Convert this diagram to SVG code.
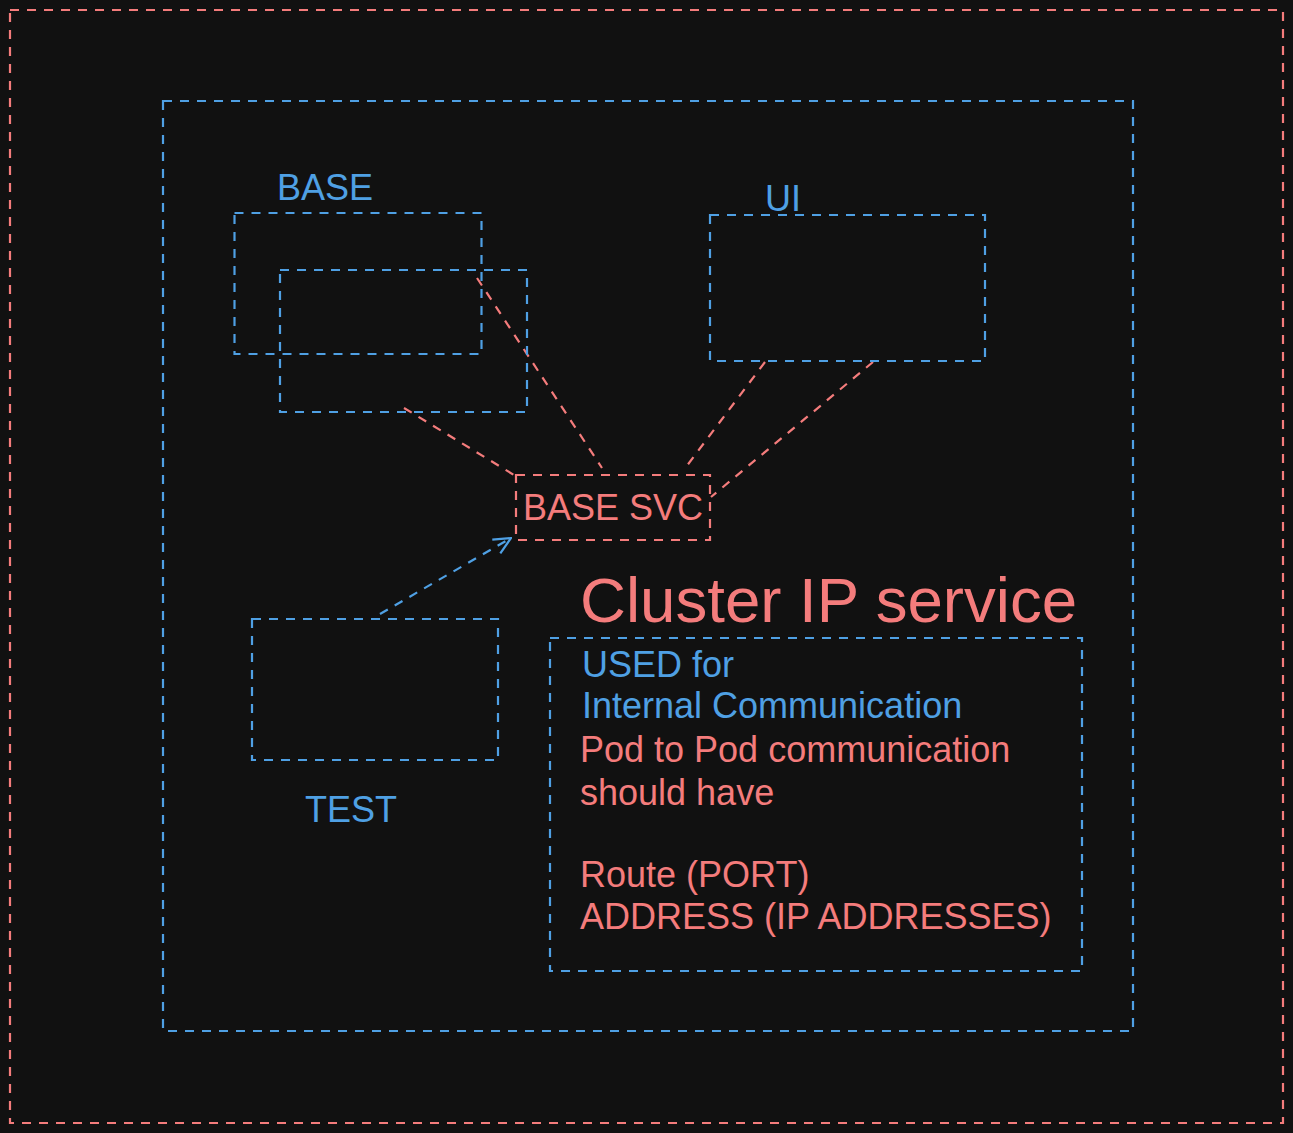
<svg xmlns="http://www.w3.org/2000/svg" width="1293" height="1133" viewBox="0 0 1293 1133">
<defs>
<style>
.b{fill:none;stroke:#4fa0e4;stroke-width:2.2;stroke-dasharray:9 8}
.r{fill:none;stroke:#f47c7c;stroke-width:2.2;stroke-dasharray:9 8}
.tb{font-family:"Liberation Sans",Arial,sans-serif;fill:#4fa0e4}
.tr{font-family:"Liberation Sans",Arial,sans-serif;fill:#f47c7c}
</style>
<marker id="arr" viewBox="0 0 20 20" refX="19" refY="10" markerWidth="20" markerHeight="20" markerUnits="userSpaceOnUse" orient="auto">
<path d="M2 2 L19 10 L2 18" fill="none" stroke="#4fa0e4" stroke-width="2.2"/>
</marker>
</defs>
<rect width="1293" height="1133" fill="#111111"/>
<g id="outer"><rect class="r" x="10" y="10" width="1273" height="1113"/></g>
<g id="cluster"><rect class="b" x="163" y="101" width="970" height="930"/></g>
<g id="connectors">
<line class="r" x1="477" y1="278" x2="602" y2="468"/>
<line class="r" x1="404" y1="408" x2="514" y2="475"/>
<line class="r" x1="765" y1="362" x2="686" y2="467"/>
<line class="r" x1="873" y1="362" x2="711" y2="497"/>
<line class="b" x1="380" y1="614" x2="511" y2="538" marker-end="url(#arr)"/>
</g>
<g id="base">
<text class="tb" x="277" y="200" font-size="36">BASE</text>
<rect class="b" x="234.5" y="213" width="247" height="141"/>
<rect class="b" x="280" y="270" width="247" height="142"/>
</g>
<g id="ui">
<text class="tb" x="765" y="211" font-size="36">UI</text>
<rect class="b" x="710" y="215" width="275" height="146"/>
</g>
<g id="basesvc">
<rect class="r" x="516" y="475" width="194" height="65"/>
<text class="tr" x="523" y="520" font-size="36">BASE SVC</text>
</g>
<g id="test">
<rect class="b" x="252" y="619" width="246" height="141"/>
<text class="tb" x="305" y="822" font-size="36">TEST</text>
</g>
<g id="title"><text class="tr" x="580" y="622" font-size="63.6">Cluster IP service</text></g>
<g id="info">
<rect class="b" x="550" y="638" width="532" height="333"/>
<text class="tb" x="582" y="677" font-size="36">USED for</text>
<text class="tb" x="582" y="718" font-size="36">Internal Communication</text>
<text class="tr" x="580" y="762" font-size="36">Pod to Pod communication</text>
<text class="tr" x="580" y="805" font-size="36">should have</text>
<text class="tr" x="580" y="887" font-size="36">Route (PORT)</text>
<text class="tr" x="580" y="929" font-size="36">ADDRESS (IP ADDRESSES)</text>
</g>
</svg>
